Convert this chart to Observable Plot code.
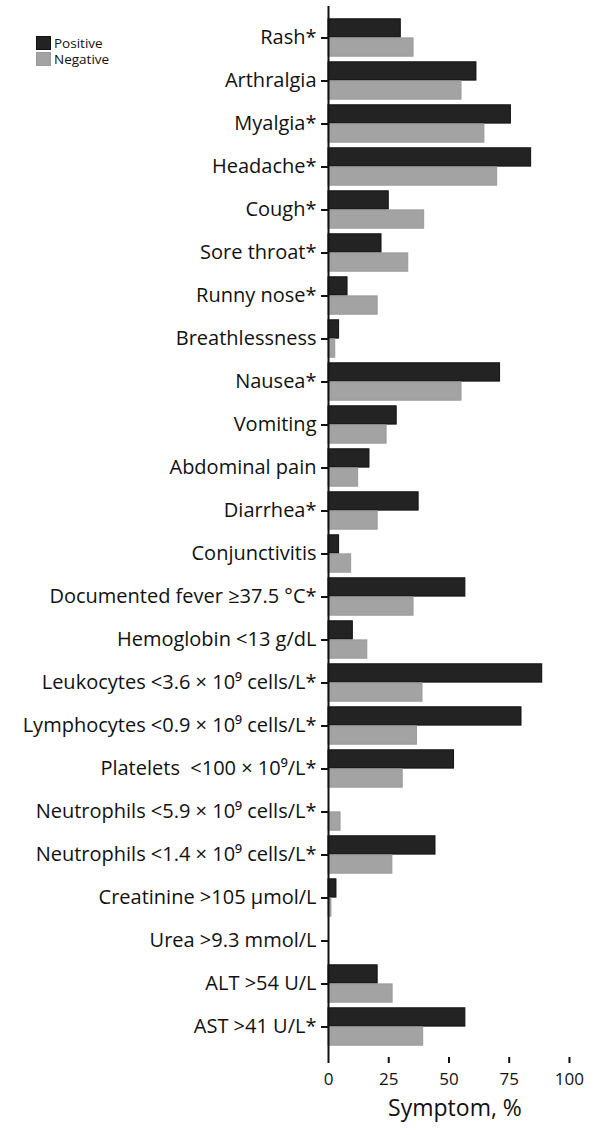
<!DOCTYPE html>
<html>
<head>
<meta charset="utf-8">
<script src="https://cdn.jsdelivr.net/npm/d3@7"></script>
<script src="https://cdn.jsdelivr.net/npm/@observablehq/plot@0.6"></script>
<style>
  html, body { margin: 0; padding: 0; background: #fff; }
  #wrap { position: relative; width: 600px; height: 1135px; }
  #legend { position: absolute; left: 36px; top: 35px; font-family: "Open Sans", sans-serif; font-size: 13.5px; line-height: 16px; color: #111; }
  #legend .item { display: flex; align-items: center; height: 16px; white-space: nowrap; }
  #legend .item span:last-child { line-height: 16px; height: 16px; display: inline-block; }
  #legend .sw { width: 15px; height: 14px; margin-right: 3px; box-sizing: border-box; }
</style>
</head>
<body>
<div id="wrap"><div id="legend"></div></div>
<script>
const categories = [
  "Rash*", "Arthralgia", "Myalgia*", "Headache*", "Cough*", "Sore throat*",
  "Runny nose*", "Breathlessness", "Nausea*", "Vomiting", "Abdominal pain",
  "Diarrhea*", "Conjunctivitis", "Documented fever ≥37.5 °C*", "Hemoglobin <13 g/dL",
  "Leukocytes <3.6 × 10⁹ cells/L*", "Lymphocytes <0.9 × 10⁹ cells/L*",
  "Platelets  <100 × 10⁹/L*", "Neutrophils <5.9 × 10⁹ cells/L*",
  "Neutrophils <1.4 × 10⁹ cells/L*", "Creatinine >105 µmol/L", "Urea >9.3 mmol/L",
  "ALT >54 U/L", "AST >41 U/L*"
];
const positive = [30, 61.4, 75.7, 84.1, 25, 22, 7.9, 4.4, 71.2, 28.3, 17, 37.4, 4.4, 56.8, 10.1, 88.7, 80.1, 52.1, 0, 44.4, 3.3, 0, 20.4, 56.8];
const negative = [35.3, 55.2, 64.7, 70, 39.7, 33.1, 20.4, 2.8, 55.2, 24.1, 12.3, 20.4, 9.4, 35.3, 16.1, 39, 36.7, 30.8, 5, 26.5, 1.2, 0, 26.6, 39.3];
const seriesNames = ["Positive", "Negative"];
const seriesColors = ["#232323", "#a3a3a3"];
const seriesStrokes = ["#111", "#9a9a9a"];
const xTicks = [0, 25, 50, 75, 100];

const data = categories.flatMap((c, i) => [
  {category: c, series: "Positive", value: positive[i]},
  {category: c, series: "Negative", value: negative[i]}
]);

const W = 600, H = 1135, mt = 6, mb = 78;
const step = (H - mt - mb) / categories.length;
const half = step / 2;
const gap = 2.8;

const chart = Plot.plot({
  width: W,
  height: H,
  marginLeft: 328,
  marginRight: 19,
  marginTop: mt,
  marginBottom: mb,
  style: {fontFamily: "'Open Sans', sans-serif", color: "#111", background: "#fff"},
  x: {domain: [0, 105]},
  y: {domain: categories, padding: 0},
  marks: [
    Plot.barX(data.filter(d => d.series === "Positive"), {
      x: "value", y: "category", fill: seriesColors[0], stroke: seriesStrokes[0], strokeWidth: 1,
      insetTop: gap, insetBottom: half
    }),
    Plot.barX(data.filter(d => d.series === "Negative"), {
      x: "value", y: "category", fill: seriesColors[1], stroke: seriesStrokes[1], strokeWidth: 1,
      insetTop: half, insetBottom: gap
    }),
    Plot.ruleX([0], {stroke: "#111", strokeWidth: 2}),
    Plot.axisY({tickSize: 7, tickPadding: 5, fontSize: 20, label: null, strokeWidth: 2}),
    Plot.axisX({
      ticks: xTicks, tickSize: 6, tickPadding: 9, fontSize: 17, line: true, strokeWidth: 2,
      label: "Symptom, %", labelAnchor: "center", labelArrow: "none", labelOffset: 58
    })
  ]
});
chart.querySelectorAll("g[aria-label='x-axis label'] text").forEach(t => t.setAttribute("font-size", 23));
document.getElementById("wrap").prepend(chart);

const legendEl = document.getElementById("legend");
seriesNames.forEach((name, i) => {
  const item = document.createElement("div");
  item.className = "item";
  const sw = document.createElement("span");
  sw.className = "sw";
  sw.style.background = seriesColors[i];
  sw.style.border = "1px solid " + seriesStrokes[i];
  const label = document.createElement("span");
  label.textContent = name;
  item.appendChild(sw);
  item.appendChild(label);
  legendEl.appendChild(item);
});
</script>
</body>
</html>
